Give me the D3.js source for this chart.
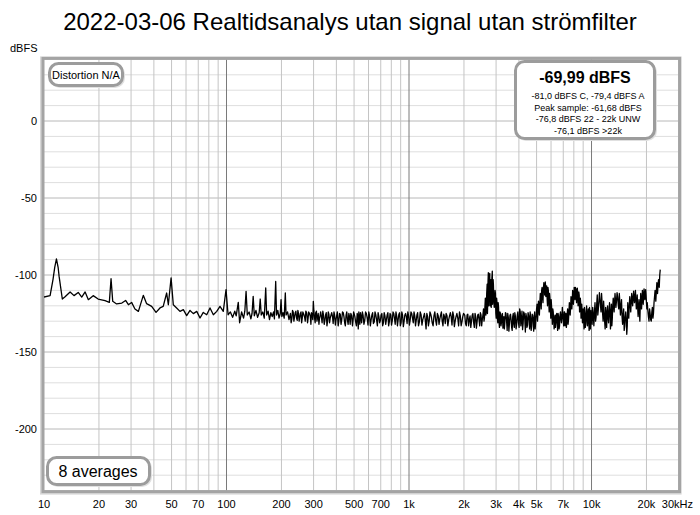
<!DOCTYPE html>
<html><head><meta charset="utf-8">
<script src="https://cdn.jsdelivr.net/npm/d3@7"></script>
<style>body{margin:0;background:#fff} text{font-family:"Liberation Sans",Arial,sans-serif}</style>
</head><body><svg id="c" width="700" height="515"></svg>
<script>
const title = "2022-03-06 Realtidsanalys utan signal utan strömfilter";
const yUnit = "dBFS";
const yTicks = [0, -50, -100, -150, -200];
const xTicks = [10, 20, 30, 50, 70, 100, 200, 300, 500, 700, 1000, 2000, 3000, 4000, 5000, 7000, 10000, 20000, 30000];
const xTickLabels = ["10","20","30","50","70","100","200","300","500","700","1k","2k","3k","4k","5k","7k","10k","20k","30kHz"];
const distortionText = "Distortion N/A";
const levelMain = "-69,99 dBFS";
const levelLines = ["-81,0 dBFS C, -79,4 dBFS A", "Peak sample: -61,68 dBFS", "-76,8 dBFS 22 - 22k UNW", "-76,1 dBFS >22k"];
const averagesText = "8 averages";

// spectrum [Hz, dBFS]
const lowBand = [[10,-114.3],[10.8,-113.4],[11.2,-103],[11.45,-95],[11.7,-89.5],[11.95,-95],[12.1,-100.9],[12.6,-115.6],[13.0,-114.3],[13.9,-111],[14.6,-113.4],[15.4,-111.3],[16.1,-114.3],[16.8,-111],[17.5,-116],[18.6,-113.4],[19.8,-115.6],[21.6,-116.7],[22.8,-117.8],[23.3,-102.4],[23.8,-117.1],[25.0,-118.8],[26.7,-118.2],[28.0,-116.5],[29.0,-119.3],[30.2,-117.8],[31.5,-122.1],[32.9,-123.6],[35.0,-113.2],[36.5,-118.6],[38.9,-120.4],[41.1,-124.3],[43.2,-121.4],[45.0,-120.4],[47.0,-111.7],[48.0,-119.3],[49.7,-101.9],[51.1,-119.3],[53.3,-121.4],[55.6,-123.6],[58.0,-122.5],[60.5,-126.4],[63.1,-123],[65.8,-125.1],[68.7,-123.6],[71.6,-127.9],[74.6,-124.3],[77.9,-125.8],[81.2,-121.4],[84.7,-125.8],[88.4,-123.6],[92.1,-120.4],[96.0,-123.6],[99.4,-109.5],[102,-125.8]];
const humBand = [[105,-124],[108,-127.5],[111,-123.5],[113,-126.5],[116,-117.8],[118,-131],[121,-124],[124,-128],[126,-123.5],[128,-110.6],[130,-126],[133,-124],[136,-128.5],[138,-125],[140,-113.9],[142,-126.5],[145,-123],[148,-127.5],[151,-124.5],[153,-115.6],[155,-126],[158,-124],[161,-128],[164,-108.4],[166,-126],[169,-123.5],[172,-129],[175,-124.5],[178,-127],[181,-124],[183,-128.5],[186,-104.2],[188,-126],[191,-123],[194,-128],[197,-125],[199,-116],[201,-127],[204,-124.5],[207,-128],[210,-111.7],[212,-126],[216,-124],[220,-129]];
const midBand = [[224,-125],[228,-128.5],[232,-124],[236,-127],[240,-123.5],[244,-129.5],[248,-125],[252,-127.5],[256,-124],[260,-128],[265,-125.5],[270,-130],[275,-124.5],[280,-128],[285,-125],[290,-132],[295,-126],[299,-117.1],[303,-127],[308,-124.5],[313,-130],[318,-125],[323,-128.5],[328,-124],[334,-131],[340,-126],[346,-129.5],[352,-124.5],[358,-130],[364,-125.5],[370,-128],[377,-124.5],[384,-131.5],[391,-126],[398,-129],[405,-124],[412,-130.5],[420,-125.5],[428,-129],[436,-124.5],[444,-131],[452,-126],[460,-129.5],[468,-125],[476,-132],[485,-126.5],[494,-129],[500,-125],[510,-130.5],[520,-125],[527,-135],[535,-128.5],[542,-124.5],[550,-131],[560,-126],[572,-129.5],[584,-125],[596,-132.5],[608,-126.5],[620,-129],[632,-124.5],[645,-130.5],[658,-126],[671,-133],[684,-127],[697,-129.5],[710,-125],[724,-131],[738,-126.5],[752,-129],[766,-124.5],[780,-130.5],[795,-126],[810,-129.5],[825,-125],[840,-132],[856,-126.5],[872,-129],[888,-124.5],[905,-131],[922,-126],[940,-130],[958,-125],[976,-131.5],[995,-126.5],[1015,-129],[1035,-125],[1055,-131],[1075,-126.5],[1095,-129.5],[1115,-124.5],[1140,-130.5],[1165,-126],[1190,-129],[1215,-125],[1240,-135],[1265,-127],[1290,-130],[1315,-125.5],[1340,-131],[1370,-126.5],[1400,-129.5],[1430,-125],[1460,-132],[1490,-126],[1520,-130],[1550,-125.5],[1580,-131.5],[1615,-126.5],[1650,-129],[1685,-124.5],[1720,-132.5],[1755,-126.5],[1790,-130],[1830,-125],[1870,-133],[1910,-126.5],[1950,-130.5],[1990,-125]];
const midFill = [[226,-131],[230,-123],[234,-130],[238,-124.5],[242,-128],[246,-123],[250,-130],[254,-125],[258,-131],[262,-124],[268,-127.5],[272,-123.5],[278,-131],[282,-124],[288,-127],[292,-124.5],[297,-129],[301,-123],[306,-131],[311,-123.5],[316,-127],[321,-132],[326,-126],[331,-127],[337,-123.5],[343,-132],[349,-126],[355,-133],[361,-124],[367,-131],[374,-126],[381,-127],[388,-124],[395,-132.5],[402,-126],[409,-133],[416,-125],[424,-132],[432,-124],[440,-127],[448,-133],[456,-124],[464,-132],[472,-127],[480,-125],[490,-133],[497,-124],[505,-127],[515,-133],[524,-127],[531,-124],[538,-132],[546,-127],[555,-124],[566,-132],[578,-124],[590,-128],[602,-124],[614,-133],[626,-126],[638,-131.5],[651,-124],[664,-129],[677,-124.5],[690,-131],[703,-126],[717,-133],[731,-124.5],[745,-132],[759,-126],[773,-133],[787,-125],[802,-132.5],[817,-124],[832,-128],[848,-124],[864,-133],[880,-125.5],[896,-133],[913,-124],[931,-133.5],[949,-126],[967,-127],[985,-124],[1005,-132.5],[1025,-124],[1045,-128],[1065,-124],[1085,-133],[1105,-126],[1127,-133],[1152,-124],[1177,-132.5],[1202,-127],[1227,-129],[1252,-125],[1277,-133],[1302,-124],[1327,-127.5],[1355,-133],[1385,-124],[1415,-132.5],[1445,-126.5],[1475,-128.5],[1505,-124],[1535,-133],[1565,-127],[1597,-125],[1632,-133],[1667,-126.5],[1702,-127],[1737,-124],[1772,-133.5],[1810,-127],[1850,-128],[1890,-124],[1930,-133],[1970,-127]];
const highBand = [[2040,-131.5],[2080,-126],[2120,-133],[2160,-126.5],[2200,-130],[2240,-125],[2280,-134],[2320,-127],[2360,-130.5],[2400,-125.5],[2440,-133],[2480,-126],[2520,-129],[2560,-122],[2590,-128],[2620,-115],[2650,-124],[2680,-106],[2700,-118],[2720,-98.5],[2740,-112],[2770,-99],[2790,-114],[2810,-103],[2830,-118],[2860,-97.5],[2880,-113],[2900,-106],[2930,-121],[2960,-110],[2990,-125],[3020,-115],[3050,-128],[3080,-118],[3110,-130],[3150,-124],[3190,-133],[3230,-126],[3270,-134.5],[3310,-127],[3350,-131],[3400,-125],[3450,-136],[3500,-127.5],[3550,-131.5],[3600,-125.5],[3650,-134],[3700,-127],[3750,-132],[3800,-124.5],[3860,-135],[3920,-126],[3980,-131],[4040,-122],[4100,-133],[4160,-123.5],[4220,-131.5],[4280,-125],[4340,-137],[4400,-127],[4460,-132.5],[4520,-126],[4580,-135],[4640,-127.5],[4700,-133],[4760,-126],[4820,-136.5],[4880,-124],[4940,-131],[5000,-122],[5060,-130],[5120,-117],[5180,-126],[5240,-112],[5300,-122],[5360,-108],[5420,-118],[5480,-105],[5540,-113],[5580,-104.5],[5620,-114],[5680,-107],[5740,-120],[5800,-110],[5860,-124],[5920,-115],[5980,-128],[6040,-120],[6100,-132],[6170,-124],[6240,-135],[6310,-126],[6380,-131],[6450,-125],[6520,-136],[6600,-127],[6680,-133],[6760,-124],[6840,-131],[6920,-121],[7000,-130],[7080,-124],[7160,-133],[7240,-125],[7320,-131],[7400,-122],[7480,-129],[7560,-118],[7640,-126],[7720,-114],[7800,-122],[7880,-110],[7960,-119],[8040,-108],[8120,-116],[8200,-109],[8280,-118],[8360,-108.5],[8440,-120],[8520,-111],[8600,-124],[8680,-115],[8760,-128],[8840,-119],[8920,-131],[9000,-122],[9100,-135],[9200,-124],[9300,-132],[9400,-120],[9500,-133],[9600,-122],[9700,-136],[9800,-124],[9900,-131],[10000,-128],[10150,-121],[10300,-133],[10450,-118],[10600,-127],[10750,-113],[10900,-122],[11050,-111.5],[11200,-120],[11350,-112],[11500,-125],[11650,-117],[11800,-130],[11950,-121],[12100,-134],[12250,-120],[12400,-131],[12550,-118],[12700,-135],[12850,-119],[13000,-128],[13150,-115],[13300,-124],[13450,-112],[13600,-121],[13800,-111.5],[14000,-119],[14200,-112],[14400,-126],[14600,-116],[14800,-132],[15000,-122],[15200,-133],[15400,-124],[15600,-138.5],[15800,-118],[16000,-128],[16200,-114],[16400,-124],[16600,-112],[16800,-120],[17000,-110.5],[17200,-118],[17400,-110],[17600,-122],[17800,-113],[18000,-127],[18200,-116],[18400,-130],[18600,-112],[18800,-122],[19000,-110],[19200,-119],[19400,-109],[19600,-116],[19800,-109.5],[20000,-118],[20200,-118],[20500,-127],[20800,-122],[21100,-129],[21400,-124],[21700,-128],[22000,-118],[22300,-110],[22500,-117],[22800,-105],[23000,-112],[23300,-103],[23500,-108],[23800,-96.5]];
const highFill = [[2020,-126],[2060,-133],[2100,-125.5],[2140,-129],[2180,-134],[2220,-126],[2260,-131],[2300,-125],[2340,-134.5],[2380,-126],[2420,-129],[2460,-124.5],[2500,-133],[2540,-126],[2575,-130],[2605,-121],[2635,-126],[2665,-112],[2690,-125],[2710,-104],[2730,-120],[2755,-101],[2780,-120],[2800,-106],[2820,-121],[2845,-102],[2870,-119],[2890,-103],[2915,-116],[2945,-119],[2975,-112],[3005,-128],[3035,-118],[3065,-131],[3095,-121],[3130,-134],[3170,-125],[3210,-131],[3250,-125],[3290,-131],[3330,-135],[3375,-124.5],[3425,-130],[3475,-125],[3525,-136.5],[3575,-126],[3625,-129],[3675,-136],[3725,-125],[3775,-134],[3830,-127],[3890,-132],[3950,-124],[4010,-134],[4070,-124],[4130,-129],[4190,-135.5],[4250,-124],[4310,-129],[4370,-125],[4430,-134],[4490,-124.5],[4550,-129],[4610,-124],[4670,-136],[4730,-125.5],[4790,-130],[4850,-128],[4910,-135],[4970,-127],[5030,-119],[5090,-124],[5150,-122],[5210,-118],[5270,-116],[5330,-110],[5390,-114],[5450,-109],[5510,-108],[5560,-112],[5600,-107],[5650,-111],[5710,-115],[5770,-108],[5830,-117],[5890,-112],[5950,-121],[6010,-116],[6070,-126],[6135,-122],[6205,-130],[6275,-128],[6345,-134],[6415,-126],[6485,-131],[6560,-125],[6640,-135],[6720,-126],[6800,-128],[6880,-127],[6960,-126],[7040,-133],[7120,-124],[7200,-129],[7280,-134],[7360,-125],[7440,-132],[7520,-124],[7600,-119],[7680,-121],[7760,-117],[7840,-117],[7920,-113],[8000,-113],[8080,-112],[8160,-108],[8240,-113],[8320,-110],[8400,-113],[8480,-117],[8560,-113],[8640,-120],[8720,-118],[8800,-125],[8880,-124],[8960,-126],[9050,-129],[9150,-121],[9250,-134],[9350,-126],[9450,-128],[9550,-125],[9650,-129],[9750,-121],[9850,-135],[9950,-123],[10075,-132],[10225,-126],[10375,-124],[10525,-130],[10675,-119],[10825,-126],[10975,-117],[11125,-116],[11275,-124],[11425,-118],[11575,-130],[11725,-124],[11875,-135],[12025,-125],[12175,-124],[12325,-128],[12475,-124],[12625,-123],[12775,-129],[12925,-133],[13075,-120],[13225,-119],[13375,-118],[13525,-116],[13700,-117],[13900,-114],[14100,-122],[14300,-118],[14500,-121],[14700,-127],[14900,-126],[15100,-136],[15300,-127],[15500,-129],[15700,-133],[15900,-124],[16100,-120],[16300,-118],[16500,-118],[16700,-115],[16900,-116],[17100,-114],[17300,-115],[17500,-116],[17700,-119],[17900,-121],[18100,-122],[18300,-123],[18500,-120],[18700,-117],[18900,-116],[19100,-114],[19300,-113],[19500,-112],[19700,-113],[19900,-113],[20100,-122],[20350,-123],[20650,-130],[20950,-125],[21250,-130],[21550,-121],[21850,-125],[22150,-114],[22400,-113],[22650,-111],[22900,-109],[23150,-106],[23400,-104],[23650,-100]];

const spectrum = d3.sort([].concat(lowBand, humBand, midBand, midFill, highBand, highFill), d => d[0]);

const L = 44, R = 678.6, T = 59.4, B = 490.6;
const x = d3.scaleLog().domain([10, 30000]).range([L, R]);
const y = d3.scaleLinear().domain([40, -240]).range([T, B]);
const svg = d3.select("#c");

svg.append("text").attr("x", 350).attr("y", 30).attr("text-anchor", "middle")
  .attr("font-size", 24).attr("fill", "#000").text(title);
svg.append("text").attr("x", 10).attr("y", 52).attr("font-size", 11).text(yUnit);

// frame shadow
svg.append("rect").attr("x", L - 3).attr("y", T - 2).attr("width", R - L + 5).attr("height", B - T + 5)
  .attr("fill", "none").attr("stroke", "#d8d8d8").attr("stroke-width", 2);
svg.append("rect").attr("x", L).attr("y", T).attr("width", R - L).attr("height", B - T).attr("fill", "#fff");

const g = svg.append("g");
const hLines = d3.range(-240, 41, 10);
g.selectAll("line.h").data(hLines).join("line")
  .attr("x1", L).attr("x2", R).attr("y1", d => y(d)).attr("y2", d => y(d))
  .attr("stroke", d => d % 50 === 0 ? "#b8b8b8" : "#dedede").attr("stroke-width", 1);
const vTicks = x.ticks().filter(d => d > 10 && d <= 30000);
g.selectAll("line.v").data(vTicks).join("line")
  .attr("y1", T).attr("y2", B).attr("x1", d => x(d)).attr("x2", d => x(d))
  .attr("stroke", d => (Math.abs(Math.log10(d) % 1) < 1e-9) ? "#7a7a7a" : "#c4c4c4").attr("stroke-width", 1);

svg.append("rect").attr("x", L - 1).attr("y", T - 1).attr("width", R - L + 2).attr("height", B - T + 2)
  .attr("fill", "none").attr("stroke", "#a4a4a4").attr("stroke-width", 3);

svg.selectAll("text.yt").data(yTicks).join("text")
  .attr("x", 37).attr("y", d => y(d) + 4).attr("text-anchor", "end").attr("font-size", 11).text(d => d);
svg.selectAll("text.xt").data(xTicks).join("text")
  .attr("x", (d, i) => i === xTicks.length - 1 ? 693 : x(d))
  .attr("y", 508).attr("text-anchor", (d, i) => i === xTicks.length - 1 ? "end" : "middle")
  .attr("font-size", 11).text((d, i) => xTickLabels[i]);

svg.append("clipPath").attr("id", "clp").append("rect").attr("x", L).attr("y", T).attr("width", R - L).attr("height", B - T);
const line = d3.line().x(d => x(d[0])).y(d => y(d[1]));
svg.append("path").datum(spectrum).attr("clip-path", "url(#clp)")
  .attr("d", line).attr("fill", "none").attr("stroke", "#000").attr("stroke-width", 1.3).attr("stroke-linejoin", "round");

function box(x0, y0, w, h) {
  svg.append("rect").attr("x", x0 + 1.5).attr("y", y0 + 1.5).attr("width", w).attr("height", h).attr("rx", 9)
    .attr("fill", "none").attr("stroke", "#e0e0e0").attr("stroke-width", 2);
  svg.append("rect").attr("x", x0).attr("y", y0).attr("width", w).attr("height", h).attr("rx", 9)
    .attr("fill", "#fff").attr("stroke", "#9c9c9c").attr("stroke-width", 3);
}
box(49.5, 63.5, 73, 22);
svg.append("text").attr("x", 86).attr("y", 78.5).attr("text-anchor", "middle").attr("font-size", 11).text(distortionText);

box(515.5, 61.5, 139, 77);
svg.append("text").attr("x", 585).attr("y", 83).attr("text-anchor", "middle").attr("font-size", 16).attr("font-weight", "bold").text(levelMain);
svg.selectAll("text.lv").data(levelLines).join("text")
  .attr("x", 588).attr("y", (d, i) => 99 + i * 11.7).attr("text-anchor", "middle").attr("font-size", 9).text(d => d);

box(47.5, 457.5, 102, 27);
svg.append("text").attr("x", 98).attr("y", 477).attr("text-anchor", "middle").attr("font-size", 16).text(averagesText);
</script></body></html>
